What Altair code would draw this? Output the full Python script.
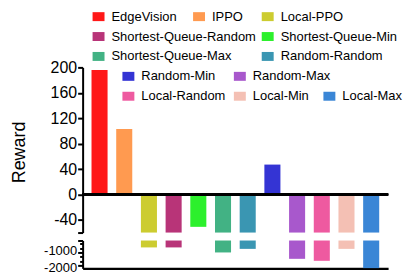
import altair as alt
import pandas as pd

# ---- data ----
methods = ["EdgeVision", "IPPO", "Local-PPO", "Shortest-Queue-Random",
           "Shortest-Queue-Min", "Shortest-Queue-Max", "Random-Random",
           "Random-Min", "Random-Max", "Local-Random", "Local-Min", "Local-Max"]
rewards = [196, 103, -620, -620, -51, -1000, -730, 47, -1480, -1630, -730, -2180]
colors = ["#ff1818", "#ff9a50", "#cccc30", "#b83478", "#2cf02c", "#42b284",
          "#3a96b2", "#3434d4", "#a858cc", "#ee5aa0", "#f4c0b4", "#3a86d6"]

top_ticks = [-60, -40, 0, 40, 80, 120, 160, 200]
bottom_ticks = [-100, -333, -667, -1000, -1333, -1667, -2000]

# ---- legend layout (pixels relative to top panel origin) ----
legend_x = [10, 111, 180, 10, 180, 10, 180, 40, 152, 40, 152, 242]
legend_row = [0, 0, 0, 1, 1, 2, 2, 3, 3, 4, 4, 4]
row_y = [-51, -31, -11, 9, 29]

df = pd.DataFrame({"method": methods, "reward": rewards})
leg = pd.DataFrame({
    "method": methods,
    "lx": legend_x,
    "lx2": [v + 12 for v in legend_x],
    "tx": [v + 19 for v in legend_x],
    "ly": [row_y[r] for r in legend_row],
})
leg["ly1"] = leg["ly"] - 4.5
leg["ly2"] = leg["ly"] + 4.5

FONT = "Liberation Sans"
W = 307
color = alt.Color("method:N", scale=alt.Scale(domain=methods, range=colors), legend=None)
xenc = alt.X("method:N", sort=methods,
             scale=alt.Scale(paddingInner=0.35, paddingOuter=0.36))

top_axis = alt.Axis(values=top_ticks, title="Reward", labelOverlap=False,
                    labelExpr="datum.value == -60 ? '' : '' + datum.value",
                    titleX=-58, titleY=85, titleBaseline="alphabetic",
                    titleAlign="center", titleAngle=270)
top_scale = alt.Scale(domain=[-60, 200], clamp=True, nice=False, zero=False)

top_bars = alt.Chart(df).mark_bar().encode(
    x=xenc.axis(None),
    y=alt.Y("reward:Q", scale=top_scale, axis=top_axis),
    y2=alt.datum(0),
    color=color,
)
zero_rule = alt.Chart(df).mark_rule(color="black", strokeWidth=2).encode(
    y=alt.YDatum(0, axis=top_axis)
)

leg_rect = alt.Chart(leg).mark_rect().encode(
    x=alt.X("lx:Q", scale=None), x2="lx2:Q",
    y=alt.Y("ly1:Q", scale=None), y2="ly2:Q",
    color=color,
)
leg_text = alt.Chart(leg).mark_text(align="left", baseline="middle", fontSize=13,
                                    font=FONT, color="black").encode(
    x=alt.X("tx:Q", scale=None), y=alt.Y("ly:Q", scale=None), text="method:N"
)

top = alt.layer(top_bars, zero_rule, leg_rect, leg_text).properties(width=W, height=166)

bottom = alt.Chart(df).mark_bar().encode(
    x=xenc.axis(alt.Axis(labels=False, ticks=False, title=None, domainWidth=2.5)),
    y=alt.Y("reward:Q",
            scale=alt.Scale(domain=[-2200, -100], clamp=True, nice=False, zero=False),
            axis=alt.Axis(values=bottom_ticks, title=None, labelOverlap=False,
                          labelFontSize=13,
                          labelOffset={"condition": {"test": "datum.value == -1000", "value": -1.5},
                                       "value": 1.5},
                          labelExpr="(datum.value == -1000 || datum.value == -2000) ? '' + datum.value : ''",
                          tickSize={"condition": {"test": "datum.value == -1000 || datum.value == -2000 || datum.value == -100",
                                                  "value": 5}, "value": 3})),
    y2=alt.datum(0),
    color=color,
).properties(width=W, height=28)

chart = alt.vconcat(top, bottom, spacing=8, bounds="flush").properties(
    padding={"left": 3, "top": 2, "right": 5, "bottom": 5}
).configure_view(stroke=None).configure_axis(
    domainColor="black", domainWidth=2, tickColor="black", tickWidth=2, tickSize=5,
    labelFont=FONT, labelFontSize=16, labelColor="black", labelPadding=1, grid=False,
    labelOverlap=False,
    titleFont=FONT, titleFontSize=18, titleFontWeight="normal", titleColor="black",
)

chart.save("out.html", embed_options={"renderer": "svg", "actions": False})
